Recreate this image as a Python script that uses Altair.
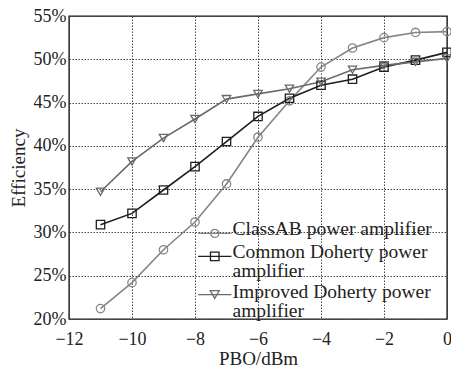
import altair as alt
import pandas as pd

pbo = [-11, -10, -9, -8, -7, -6, -5, -4, -3, -2, -1, 0]
classab = [21.2, 24.2, 28.0, 31.2, 35.6, 41.0, 45.2, 49.1, 51.3, 52.5, 53.1, 53.2]
common = [30.9, 32.2, 34.9, 37.6, 40.5, 43.4, 45.5, 47.0, 47.7, 49.1, 49.9, 50.8]
improved = [34.7, 38.2, 40.9, 43.1, 45.4, 46.0, 46.6, 47.4, 48.8, 49.3, 49.7, 50.1]

legend_lines = [
    ["ClassAB power amplifier"],
    ["Common Doherty power", "amplifier"],
    ["Improved Doherty power", "amplifier"],
]
series_names = [" ".join(l) for l in legend_lines]
colors = ["#858585", "#1e1e1e", "#6a6a6a"]
shapes = ["circle", "square", "triangle-down"]
# legend symbols: a short line with the marker on it (unit coordinates)
legend_symbols = [
    "M-3.7,-0.3H3.7M-0.9,-0.3A0.9,0.9 0 1,1 0.9,-0.3A0.9,0.9 0 1,1 -0.9,-0.3Z",
    "M-3.7,-0.3H3.7M-0.95,-1.25H0.95V0.65H-0.95Z",
    "M-3.7,-0.7H3.7M-1,-1.6H1L0,0.15Z",
]
x_ticks = [-12, -10, -8, -6, -4, -2, 0]
y_ticks = [0.20, 0.25, 0.30, 0.35, 0.40, 0.45, 0.50, 0.55]

rows = []
for name, vals in zip(series_names, [classab, common, improved]):
    for x, v in zip(pbo, vals):
        rows.append({"pbo": x, "eff": v / 100.0, "series": name,
                     "series2": name, "series3": name})
df = pd.DataFrame(rows)

# label expression that wraps long labels onto two lines
expr = "datum.label"
for name, lines in zip(series_names, legend_lines):
    if len(lines) > 1:
        arr = "[" + ", ".join("'" + s + "'" for s in lines) + "]"
        expr = f"datum.label == '{name}' ? {arr} : ({expr})"

FONT = "Liberation Serif"
TXT = "#222222"

legend = alt.Legend(
    title=None, orient="none", legendX=136, legendY=209, padding=0, rowPadding=0,
    labelFont=FONT, labelFontSize=19.5, labelColor=TXT,
    labelBaseline="alphabetic", labelExpr=expr, labelLimit=400, labelOffset=8,
    symbolSize=81, symbolStrokeWidth=1.3, symbolFillColor="transparent",
    symbolOpacity=1,
)

x_enc = alt.X(
    "pbo:Q",
    scale=alt.Scale(domain=[-12, 0], nice=False, zero=False),
    axis=alt.Axis(
        values=x_ticks, format="d", labelFlush=False, ticks=False, domain=False,
        labelFont=FONT, labelFontSize=18, labelColor=TXT, labelPadding=11,
        grid=True, gridColor="#333333", gridDash=[1.5, 1.5], gridWidth=0.9,
        title="PBO/dBm", titleFont=FONT, titleFontSize=19, titleFontWeight="normal",
        titleColor=TXT, titlePadding=1,
    ),
)
y_enc = alt.Y(
    "eff:Q",
    scale=alt.Scale(domain=[0.20, 0.55], nice=False, zero=False),
    axis=alt.Axis(
        values=y_ticks, format=".0%", ticks=False, domain=False,
        labelFont=FONT, labelFontSize=18, labelColor=TXT, labelPadding=3,
        grid=True, gridColor="#333333", gridDash=[1.5, 1.5], gridWidth=0.9,
        title="Efficiency", titleFont=FONT, titleFontSize=19, titleFontWeight="normal",
        titleColor=TXT, titlePadding=5,
    ),
)

lines = alt.Chart(df).mark_line(strokeWidth=1.6).encode(
    x=x_enc, y=y_enc,
    color=alt.Color("series:N", scale=alt.Scale(range=colors), legend=None),
)
points = alt.Chart(df).mark_point(filled=False, size=70, strokeWidth=1.3, opacity=1).encode(
    x=x_enc, y=y_enc,
    stroke=alt.Stroke("series2:N", scale=alt.Scale(range=colors), legend=None),
    shape=alt.Shape("series2:N", scale=alt.Scale(range=shapes), legend=None),
)
# invisible layer that only carries the legend (line + marker symbols)
legend_layer = alt.Chart(df).mark_point(filled=False, opacity=0).encode(
    x=x_enc, y=y_enc,
    stroke=alt.Stroke("series3:N", scale=alt.Scale(range=colors), legend=legend),
    shape=alt.Shape("series3:N", scale=alt.Scale(range=legend_symbols), legend=legend),
)

chart = alt.layer(lines, points, legend_layer).resolve_scale(
    color="independent", stroke="independent", shape="independent"
).properties(
    width=378, height=303,
    autosize=alt.AutoSizeParams(type="none"),
    padding={"left": 69, "top": 16, "right": 4, "bottom": 51},
    background="white",
).configure(
    style={"guide-label": {"lineHeight": 19}}
).configure_view(stroke="#1a1a1a", strokeWidth=1.4)

chart.save("out.html", embed_options={"renderer": "svg", "actions": False})
